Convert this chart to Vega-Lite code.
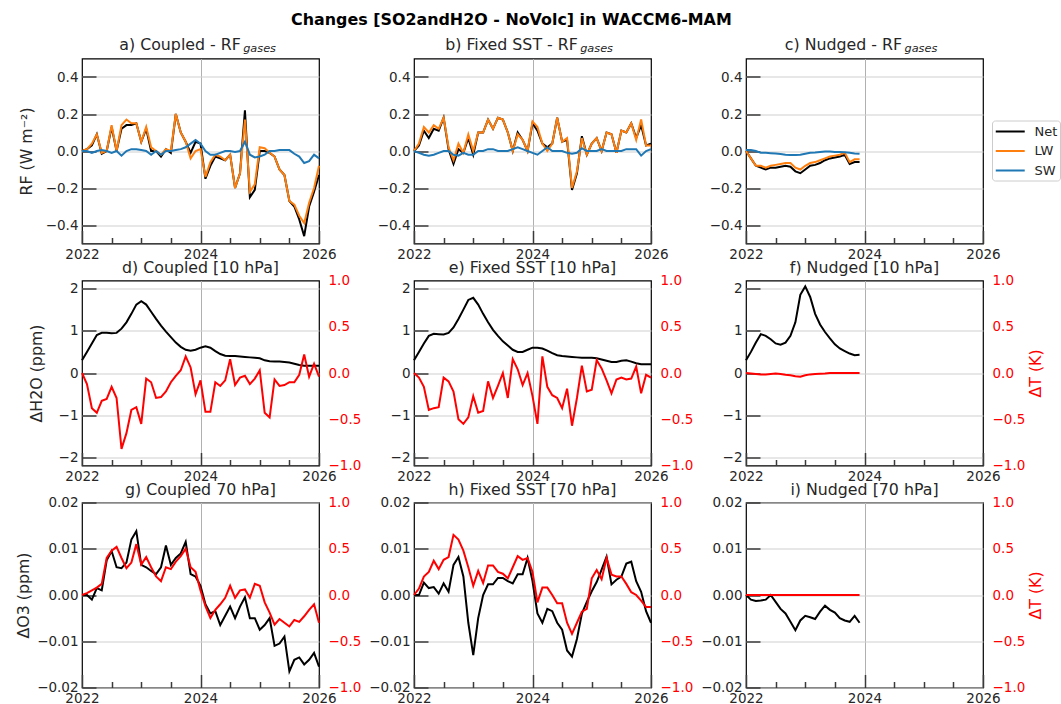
{
  "$schema": "https://vega.github.io/schema/vega-lite/v6.json",
  "background": "white",
  "padding": {"left": 15, "top": 11.5, "right": 0, "bottom": 0},
  "title": {"text": "Changes [SO2andH2O - NoVolc] in WACCM6-MAM", "fontSize": 15.9, "fontWeight": "bold", "color": "black", "offset": 8, "anchor": "start", "dx": 276},
  "config": {
    "font": "DejaVu Sans",
    "view": {"stroke": "#000000", "strokeWidth": 1.2},
    "axis": {
      "domain": false, "labelFontSize": 13.5, "labelColor": "#262626", "titleFontSize": 15.8,
      "titleFontWeight": "normal", "titleColor": "#262626", "tickColor": "#3a3a3a", "tickWidth": 1.5,
      "gridColor": "#cfcfcf", "gridWidth": 1.2, "labelOverlap": false, "labelFlush": false, "labelBound": false
    },
    "title": {"fontSize": 15.8, "fontWeight": "normal", "color": "#262626", "offset": -3},
    "line": {"strokeWidth": 2}
  },
  "datasets": {
    "a": [
      {"m":0,"Net":0,"LW":0,"SW":0},{"m":1,"Net":0.01,"LW":0.01,"SW":0},{"m":2,"Net":0.03,"LW":0.04,"SW":-0.01},{"m":3,"Net":0.09,"LW":0.09,"SW":0},
      {"m":4,"Net":-0.015,"LW":-0.01,"SW":0.005},{"m":5,"Net":0,"LW":0,"SW":0},{"m":6,"Net":0.13,"LW":0.14,"SW":-0.01},{"m":7,"Net":0,"LW":0,"SW":0},
      {"m":8,"Net":0.12,"LW":0.14,"SW":-0.025},{"m":9,"Net":0.14,"LW":0.17,"SW":0},{"m":10,"Net":0.14,"LW":0.15,"SW":0.01},{"m":11,"Net":0.15,"LW":0.15,"SW":0.01},
      {"m":12,"Net":0.05,"LW":0.05,"SW":0.005},{"m":13,"Net":0.12,"LW":0.13,"SW":0},{"m":14,"Net":0,"LW":0.02,"SW":-0.02},{"m":15,"Net":0,"LW":0,"SW":0},
      {"m":16,"Net":-0.03,"LW":-0.02,"SW":-0.02},{"m":17,"Net":0.01,"LW":0.01,"SW":0},{"m":18,"Net":-0.01,"LW":0,"SW":0},{"m":19,"Net":0.2,"LW":0.2,"SW":0.005},
      {"m":20,"Net":0.1,"LW":0.1,"SW":0.01},{"m":21,"Net":0.05,"LW":0.05,"SW":0.02},{"m":22,"Net":-0.01,"LW":-0.04,"SW":0.04},{"m":23,"Net":0.05,"LW":0,"SW":0.06},
      {"m":24,"Net":0.04,"LW":0.01,"SW":0.04},{"m":25,"Net":-0.15,"LW":-0.14,"SW":0},{"m":26,"Net":-0.08,"LW":-0.06,"SW":-0.02},{"m":27,"Net":-0.03,"LW":-0.02,"SW":-0.02},
      {"m":28,"Net":-0.04,"LW":-0.03,"SW":-0.01},{"m":29,"Net":-0.05,"LW":-0.05,"SW":0},{"m":30,"Net":-0.02,"LW":-0.02,"SW":0},{"m":31,"Net":-0.2,"LW":-0.2,"SW":-0.005},
      {"m":32,"Net":-0.12,"LW":-0.12,"SW":0},{"m":33,"Net":0.22,"LW":0.17,"SW":0.05},{"m":34,"Net":-0.25,"LW":-0.22,"SW":-0.02},{"m":35,"Net":-0.21,"LW":-0.18,"SW":-0.035},
      {"m":36,"Net":0,"LW":0.02,"SW":-0.03},{"m":37,"Net":0,"LW":0.015,"SW":-0.02},{"m":38,"Net":-0.01,"LW":-0.01,"SW":0},{"m":39,"Net":-0.03,"LW":-0.03,"SW":0},
      {"m":40,"Net":-0.1,"LW":-0.1,"SW":0.005},{"m":41,"Net":-0.13,"LW":-0.13,"SW":0.005},{"m":42,"Net":-0.27,"LW":-0.27,"SW":0.005},{"m":43,"Net":-0.3,"LW":-0.29,"SW":-0.015},
      {"m":44,"Net":-0.37,"LW":-0.35,"SW":-0.03},{"m":45,"Net":-0.46,"LW":-0.39,"SW":-0.065},{"m":46,"Net":-0.3,"LW":-0.28,"SW":-0.055},{"m":47,"Net":-0.22,"LW":-0.2,"SW":-0.02},
      {"m":48,"Net":-0.13,"LW":-0.08,"SW":-0.04}
    ],
    "b": [
      {"m":0,"Net":0,"LW":0,"SW":0},{"m":1,"Net":0.03,"LW":0.04,"SW":-0.01},{"m":2,"Net":0.11,"LW":0.13,"SW":-0.02},{"m":3,"Net":0.07,"LW":0.1,"SW":-0.025},
      {"m":4,"Net":0.12,"LW":0.14,"SW":-0.02},{"m":5,"Net":0.11,"LW":0.12,"SW":-0.01},{"m":6,"Net":0.18,"LW":0.18,"SW":0},{"m":7,"Net":0.01,"LW":0.02,"SW":0},
      {"m":8,"Net":-0.07,"LW":-0.05,"SW":-0.02},{"m":9,"Net":0.01,"LW":0.04,"SW":-0.025},{"m":10,"Net":-0.01,"LW":-0.01,"SW":-0.01},{"m":11,"Net":0.07,"LW":0.09,"SW":-0.02},
      {"m":12,"Net":-0.02,"LW":0,"SW":-0.02},{"m":13,"Net":0.1,"LW":0.1,"SW":0},{"m":14,"Net":0.1,"LW":0.1,"SW":0},{"m":15,"Net":0.17,"LW":0.17,"SW":0.01},
      {"m":16,"Net":0.12,"LW":0.12,"SW":0.01},{"m":17,"Net":0.18,"LW":0.18,"SW":0},{"m":18,"Net":0.17,"LW":0.17,"SW":0},{"m":19,"Net":0.1,"LW":0.1,"SW":0},
      {"m":20,"Net":0,"LW":0,"SW":0.01},{"m":21,"Net":0.1,"LW":0.09,"SW":0.02},{"m":22,"Net":0.06,"LW":0.06,"SW":0.01},{"m":23,"Net":0,"LW":0,"SW":0},
      {"m":24,"Net":0.15,"LW":0.16,"SW":-0.01},{"m":25,"Net":0.11,"LW":0.13,"SW":-0.02},{"m":26,"Net":0.04,"LW":0.04,"SW":0},{"m":27,"Net":0.02,"LW":0,"SW":0.02},
      {"m":28,"Net":0.04,"LW":0.04,"SW":0},{"m":29,"Net":0.18,"LW":0.18,"SW":0},{"m":30,"Net":0.05,"LW":0.05,"SW":0},{"m":31,"Net":0.06,"LW":0.07,"SW":-0.01},
      {"m":32,"Net":-0.21,"LW":-0.2,"SW":-0.015},{"m":33,"Net":-0.12,"LW":-0.11,"SW":-0.01},{"m":34,"Net":0.08,"LW":0.07,"SW":0.015},{"m":35,"Net":-0.02,"LW":-0.02,"SW":0},
      {"m":36,"Net":0.04,"LW":0.04,"SW":0},{"m":37,"Net":0.07,"LW":0.07,"SW":0},{"m":38,"Net":0,"LW":0,"SW":0.01},{"m":39,"Net":0.1,"LW":0.1,"SW":0},
      {"m":40,"Net":0.09,"LW":0.09,"SW":0},{"m":41,"Net":-0.01,"LW":-0.01,"SW":0},{"m":42,"Net":0.11,"LW":0.11,"SW":0},{"m":43,"Net":0.1,"LW":0.1,"SW":0.01},
      {"m":44,"Net":0.15,"LW":0.15,"SW":0.01},{"m":45,"Net":0.07,"LW":0.06,"SW":0.01},{"m":46,"Net":0.14,"LW":0.17,"SW":-0.025},{"m":47,"Net":0.03,"LW":0.03,"SW":0},
      {"m":48,"Net":0.04,"LW":0.03,"SW":0.01}
    ],
    "c": [
      {"m":0,"Net":0,"LW":0,"SW":0.005},{"m":1,"Net":-0.04,"LW":-0.04,"SW":0.005},{"m":2,"Net":-0.08,"LW":-0.08,"SW":0},{"m":3,"Net":-0.09,"LW":-0.08,"SW":-0.01},
      {"m":4,"Net":-0.1,"LW":-0.09,"SW":-0.01},{"m":5,"Net":-0.09,"LW":-0.08,"SW":-0.012},{"m":6,"Net":-0.09,"LW":-0.075,"SW":-0.014},{"m":7,"Net":-0.085,"LW":-0.07,"SW":-0.016},
      {"m":8,"Net":-0.08,"LW":-0.065,"SW":-0.02},{"m":9,"Net":-0.085,"LW":-0.065,"SW":-0.022},{"m":10,"Net":-0.11,"LW":-0.09,"SW":-0.022},{"m":11,"Net":-0.12,"LW":-0.1,"SW":-0.02},
      {"m":12,"Net":-0.1,"LW":-0.08,"SW":-0.015},{"m":13,"Net":-0.08,"LW":-0.065,"SW":-0.01},{"m":14,"Net":-0.075,"LW":-0.06,"SW":-0.008},{"m":15,"Net":-0.065,"LW":-0.05,"SW":-0.005},
      {"m":16,"Net":-0.05,"LW":-0.04,"SW":-0.003},{"m":17,"Net":-0.04,"LW":-0.03,"SW":-0.003},{"m":18,"Net":-0.035,"LW":-0.025,"SW":-0.005},{"m":19,"Net":-0.03,"LW":-0.02,"SW":-0.005},
      {"m":20,"Net":-0.02,"LW":-0.01,"SW":-0.007},{"m":21,"Net":-0.07,"LW":-0.06,"SW":-0.01},{"m":22,"Net":-0.06,"LW":-0.045,"SW":-0.013},{"m":23,"Net":-0.06,"LW":-0.045,"SW":-0.015}
    ],
    "d": [
      {"m":0,"H2O":0.3,"T":0},{"m":1,"H2O":0.5,"T":-0.12},{"m":2,"H2O":0.7,"T":-0.38},{"m":3,"H2O":0.9,"T":-0.43},{"m":4,"H2O":0.95,"T":-0.3},
      {"m":5,"H2O":0.95,"T":-0.28},{"m":6,"H2O":0.94,"T":-0.15},{"m":7,"H2O":0.95,"T":-0.27},{"m":8,"H2O":1.05,"T":-0.82},{"m":9,"H2O":1.2,"T":-0.65},
      {"m":10,"H2O":1.4,"T":-0.4},{"m":11,"H2O":1.62,"T":-0.37},{"m":12,"H2O":1.7,"T":-0.55},{"m":13,"H2O":1.62,"T":-0.06},{"m":14,"H2O":1.45,"T":-0.1},
      {"m":15,"H2O":1.28,"T":-0.27},{"m":16,"H2O":1.12,"T":-0.26},{"m":17,"H2O":0.98,"T":-0.2},{"m":18,"H2O":0.85,"T":-0.1},{"m":19,"H2O":0.72,"T":-0.03},
      {"m":20,"H2O":0.62,"T":0.03},{"m":21,"H2O":0.55,"T":0.18},{"m":22,"H2O":0.53,"T":0.06},{"m":23,"H2O":0.55,"T":-0.23},{"m":24,"H2O":0.6,"T":-0.08},
      {"m":25,"H2O":0.63,"T":-0.42},{"m":26,"H2O":0.6,"T":-0.42},{"m":27,"H2O":0.52,"T":-0.1},{"m":28,"H2O":0.45,"T":-0.14},{"m":29,"H2O":0.41,"T":-0.08},
      {"m":30,"H2O":0.4,"T":0.15},{"m":31,"H2O":0.4,"T":-0.13},{"m":32,"H2O":0.39,"T":-0.05},{"m":33,"H2O":0.38,"T":-0.03},{"m":34,"H2O":0.37,"T":-0.12},
      {"m":35,"H2O":0.36,"T":-0.06},{"m":36,"H2O":0.35,"T":0.03},{"m":37,"H2O":0.3,"T":-0.43},{"m":38,"H2O":0.28,"T":-0.48},{"m":39,"H2O":0.27,"T":-0.07},
      {"m":40,"H2O":0.27,"T":-0.14},{"m":41,"H2O":0.26,"T":-0.13},{"m":42,"H2O":0.25,"T":-0.1},{"m":43,"H2O":0.22,"T":-0.1},{"m":44,"H2O":0.19,"T":-0.02},
      {"m":45,"H2O":0.17,"T":0.2},{"m":46,"H2O":0.17,"T":-0.04},{"m":47,"H2O":0.17,"T":0.1},{"m":48,"H2O":0.17,"T":-0.04}
    ],
    "e": [
      {"m":0,"H2O":0.3,"T":0},{"m":1,"H2O":0.5,"T":-0.05},{"m":2,"H2O":0.7,"T":-0.15},{"m":3,"H2O":0.88,"T":-0.4},{"m":4,"H2O":0.93,"T":-0.38},
      {"m":5,"H2O":0.92,"T":-0.37},{"m":6,"H2O":0.91,"T":-0.05},{"m":7,"H2O":0.95,"T":-0.09},{"m":8,"H2O":1.08,"T":-0.2},{"m":9,"H2O":1.28,"T":-0.5},
      {"m":10,"H2O":1.5,"T":-0.55},{"m":11,"H2O":1.73,"T":-0.48},{"m":12,"H2O":1.78,"T":-0.25},{"m":13,"H2O":1.62,"T":-0.43},{"m":14,"H2O":1.4,"T":-0.41},
      {"m":15,"H2O":1.2,"T":-0.09},{"m":16,"H2O":1.02,"T":-0.27},{"m":17,"H2O":0.88,"T":-0.14},{"m":18,"H2O":0.75,"T":0},{"m":19,"H2O":0.65,"T":-0.27},
      {"m":20,"H2O":0.55,"T":0.15},{"m":21,"H2O":0.5,"T":0.04},{"m":22,"H2O":0.5,"T":-0.13},{"m":23,"H2O":0.55,"T":0},{"m":24,"H2O":0.6,"T":-0.25},
      {"m":25,"H2O":0.6,"T":-0.55},{"m":26,"H2O":0.58,"T":0.18},{"m":27,"H2O":0.53,"T":-0.15},{"m":28,"H2O":0.47,"T":-0.24},{"m":29,"H2O":0.42,"T":-0.27},
      {"m":30,"H2O":0.4,"T":-0.38},{"m":31,"H2O":0.39,"T":-0.17},{"m":32,"H2O":0.38,"T":-0.57},{"m":33,"H2O":0.37,"T":-0.27},{"m":34,"H2O":0.36,"T":0.08},
      {"m":35,"H2O":0.36,"T":-0.2},{"m":36,"H2O":0.36,"T":-0.18},{"m":37,"H2O":0.35,"T":0.14},{"m":38,"H2O":0.32,"T":0.05},{"m":39,"H2O":0.29,"T":-0.08},
      {"m":40,"H2O":0.26,"T":-0.22},{"m":41,"H2O":0.26,"T":-0.07},{"m":42,"H2O":0.29,"T":-0.05},{"m":43,"H2O":0.3,"T":-0.07},{"m":44,"H2O":0.27,"T":-0.06},
      {"m":45,"H2O":0.23,"T":0.07},{"m":46,"H2O":0.21,"T":-0.22},{"m":47,"H2O":0.21,"T":-0.02},{"m":48,"H2O":0.21,"T":-0.05}
    ],
    "f": [
      {"m":0,"H2O":0.3,"T":0},{"m":1,"H2O":0.5,"T":-0.005},{"m":2,"H2O":0.72,"T":-0.01},{"m":3,"H2O":0.92,"T":-0.015},{"m":4,"H2O":0.88,"T":-0.015},
      {"m":5,"H2O":0.8,"T":-0.01},{"m":6,"H2O":0.7,"T":-0.005},{"m":7,"H2O":0.67,"T":-0.01},{"m":8,"H2O":0.72,"T":-0.02},{"m":9,"H2O":0.88,"T":-0.025},
      {"m":10,"H2O":1.2,"T":-0.035},{"m":11,"H2O":1.85,"T":-0.04},{"m":12,"H2O":2.05,"T":-0.025},{"m":13,"H2O":1.8,"T":-0.015},{"m":14,"H2O":1.4,"T":-0.01},
      {"m":15,"H2O":1.15,"T":-0.008},{"m":16,"H2O":0.97,"T":-0.005},{"m":17,"H2O":0.82,"T":0},{"m":18,"H2O":0.68,"T":0},{"m":19,"H2O":0.58,"T":0},
      {"m":20,"H2O":0.52,"T":0},{"m":21,"H2O":0.46,"T":0},{"m":22,"H2O":0.42,"T":0},{"m":23,"H2O":0.43,"T":0}
    ],
    "g": [
      {"m":0,"O3":0,"T":0},{"m":1,"O3":0,"T":0.02},{"m":2,"O3":-0.001,"T":0.05},{"m":3,"O3":0.0015,"T":0.08},{"m":4,"O3":0.001,"T":0.12},
      {"m":5,"O3":0.0075,"T":0.4},{"m":6,"O3":0.0095,"T":0.48},{"m":7,"O3":0.006,"T":0.52},{"m":8,"O3":0.0058,"T":0.4},{"m":9,"O3":0.007,"T":0.29},
      {"m":10,"O3":0.012,"T":0.35},{"m":11,"O3":0.0138,"T":0.55},{"m":12,"O3":0.0065,"T":0.33},{"m":13,"O3":0.006,"T":0.41},{"m":14,"O3":0.0052,"T":0.3},
      {"m":15,"O3":0.0045,"T":0.2},{"m":16,"O3":0.006,"T":0.15},{"m":17,"O3":0.0107,"T":0.3},{"m":18,"O3":0.0065,"T":0.28},{"m":19,"O3":0.008,"T":0.36},
      {"m":20,"O3":0.009,"T":0.42},{"m":21,"O3":0.0115,"T":0.5},{"m":22,"O3":0.0045,"T":0.3},{"m":23,"O3":0.004,"T":0.25},{"m":24,"O3":0.002,"T":0.05},
      {"m":25,"O3":-0.002,"T":-0.12},{"m":26,"O3":-0.004,"T":-0.25},{"m":27,"O3":-0.0035,"T":-0.16},{"m":28,"O3":-0.0065,"T":-0.1},{"m":29,"O3":-0.0045,"T":-0.03},
      {"m":30,"O3":-0.0025,"T":0.1},{"m":31,"O3":-0.005,"T":-0.03},{"m":32,"O3":-0.0025,"T":0.05},{"m":33,"O3":-0.0005,"T":0.06},{"m":34,"O3":-0.005,"T":-0.03},
      {"m":35,"O3":-0.005,"T":0.12},{"m":36,"O3":-0.0075,"T":0.1},{"m":37,"O3":-0.0065,"T":-0.08},{"m":38,"O3":-0.005,"T":-0.19},{"m":39,"O3":-0.011,"T":-0.32},
      {"m":40,"O3":-0.0105,"T":-0.26},{"m":41,"O3":-0.009,"T":-0.3},{"m":42,"O3":-0.0165,"T":-0.34},{"m":43,"O3":-0.014,"T":-0.27},{"m":44,"O3":-0.0135,"T":-0.29},
      {"m":45,"O3":-0.015,"T":-0.23},{"m":46,"O3":-0.014,"T":-0.16},{"m":47,"O3":-0.0125,"T":-0.1},{"m":48,"O3":-0.0155,"T":-0.3}
    ],
    "h": [
      {"m":0,"O3":0,"T":0},{"m":1,"O3":0,"T":0.07},{"m":2,"O3":0.0027,"T":0.2},{"m":3,"O3":0.0015,"T":0.25},{"m":4,"O3":0.0017,"T":0.37},
      {"m":5,"O3":0.0003,"T":0.28},{"m":6,"O3":0.0025,"T":0.38},{"m":7,"O3":0.0007,"T":0.41},{"m":8,"O3":0.0065,"T":0.65},{"m":9,"O3":0.0082,"T":0.6},
      {"m":10,"O3":0.004,"T":0.48},{"m":11,"O3":-0.006,"T":0.3},{"m":12,"O3":-0.013,"T":0.1},{"m":13,"O3":-0.005,"T":0.26},{"m":14,"O3":0,"T":0.13},
      {"m":15,"O3":0.0023,"T":0.32},{"m":16,"O3":0.0023,"T":0.32},{"m":17,"O3":0.0037,"T":0.25},{"m":18,"O3":0.0037,"T":0.23},{"m":19,"O3":0.003,"T":0.18},
      {"m":20,"O3":0.0025,"T":0.3},{"m":21,"O3":0.0045,"T":0.42},{"m":22,"O3":0.0045,"T":0.38},{"m":23,"O3":0.008,"T":0.4},{"m":24,"O3":0.003,"T":0.25},
      {"m":25,"O3":-0.004,"T":-0.08},{"m":26,"O3":-0.006,"T":0.08},{"m":27,"O3":-0.003,"T":0.08},{"m":28,"O3":-0.0035,"T":0},{"m":29,"O3":-0.006,"T":-0.09},
      {"m":30,"O3":-0.0075,"T":-0.09},{"m":31,"O3":-0.012,"T":-0.3},{"m":32,"O3":-0.0133,"T":-0.42},{"m":33,"O3":-0.0095,"T":-0.3},{"m":34,"O3":-0.004,"T":-0.18},
      {"m":35,"O3":-0.0015,"T":-0.15},{"m":36,"O3":0.0008,"T":0.18},{"m":37,"O3":0.0028,"T":0.27},{"m":38,"O3":0.0055,"T":0.17},{"m":39,"O3":0.0083,"T":0.4},
      {"m":40,"O3":0.0023,"T":0.22},{"m":41,"O3":0.0033,"T":0.2},{"m":42,"O3":0.004,"T":0.2},{"m":43,"O3":0.0068,"T":0.12},{"m":44,"O3":0.0072,"T":0.03},
      {"m":45,"O3":0.003,"T":0},{"m":46,"O3":0.0007,"T":-0.06},{"m":47,"O3":-0.0035,"T":-0.13},{"m":48,"O3":-0.006,"T":-0.13}
    ],
    "i": [
      {"m":0,"O3":0,"T":0},{"m":1,"O3":-0.001,"T":0},{"m":2,"O3":-0.0013,"T":0},{"m":3,"O3":-0.0012,"T":0},{"m":4,"O3":-0.001,"T":0},
      {"m":5,"O3":0,"T":0},{"m":6,"O3":-0.0015,"T":0},{"m":7,"O3":-0.003,"T":0},{"m":8,"O3":-0.004,"T":0},{"m":9,"O3":-0.0058,"T":0},
      {"m":10,"O3":-0.0076,"T":0},{"m":11,"O3":-0.0055,"T":0},{"m":12,"O3":-0.0045,"T":0},{"m":13,"O3":-0.0048,"T":0},{"m":14,"O3":-0.0052,"T":0},
      {"m":15,"O3":-0.0036,"T":0},{"m":16,"O3":-0.0023,"T":0},{"m":17,"O3":-0.0032,"T":0},{"m":18,"O3":-0.0038,"T":0},{"m":19,"O3":-0.005,"T":0},
      {"m":20,"O3":-0.0055,"T":0},{"m":21,"O3":-0.0058,"T":0},{"m":22,"O3":-0.0045,"T":0},{"m":23,"O3":-0.006,"T":0}
    ]
  },
  "columns": 3,
  "bounds": "flush",
  "spacing": {"row": 37, "column": 95},
  "concat": [
    {
      "width": 237, "height": 185,
      "title": {"text": "a) Coupled - RF\u00a0\u00a0\u00a0\u00a0\u00a0\u00a0\u00a0\u200b", "subtitle": "gases", "anchor": "middle", "align": "right", "dx": 75.5, "offset": 3, "subtitleFontStyle": "italic", "subtitleFontSize": 11.3, "subtitleColor": "#262626", "subtitlePadding": -10.5},
      "data": {"name": "a"},
      "transform": [{"fold": ["Net", "LW", "SW"], "as": ["k", "v"]}],
      "mark": {"type": "line", "strokeWidth": 2},
      "encoding": {
        "x": {"field": "m", "type": "quantitative", "title": null, "scale": {"domain": [0, 48], "nice": false, "zero": false},
          "axis": {"values": [0, 6, 12, 18, 24, 30, 36, 42, 48], "labelExpr": "datum.value % 24 === 0 ? '' + (2022 + datum.value / 12) : ''", "tickSize": {"condition": {"test": "datum.value % 24 === 0", "value": -13}, "value": -6}, "labelPadding": 17, "gridColor": "#b0b0b0", "gridWidth": 1, "gridOpacity": {"condition": {"test": "datum.value === 24", "value": 1}, "value": 0}}},
        "y": {"field": "v", "type": "quantitative", "title": "RF (W m⁻²)", "scale": {"domain": [-0.5, 0.5], "nice": false, "zero": false},
          "axis": {"values": [-0.4, -0.2, 0, 0.2, 0.4], "format": ".1f", "tickSize": -14, "labelPadding": 18, "titlePadding": 11}},
        "color": {"field": "k", "type": "nominal", "scale": {"domain": ["Net", "LW", "SW"], "range": ["#000000", "#ff7f0e", "#1f77b4"]},
          "legend": {"title": null, "orient": "none", "legendX": 910, "legendY": 62, "symbolType": "M-1,0H3", "symbolSize": 210, "symbolStrokeWidth": 2.5, "labelFontSize": 13, "labelColor": "#262626", "fillColor": "white", "strokeColor": "#cccccc", "padding": 2.5, "cornerRadius": 3, "rowPadding": 3.5, "labelOffset": 23}}
      }
    },
    {
      "width": 237, "height": 185,
      "title": {"text": "b) Fixed SST - RF\u00a0\u00a0\u00a0\u00a0\u00a0\u00a0\u00a0\u200b", "subtitle": "gases", "anchor": "middle", "align": "right", "dx": 80.5, "offset": 3, "subtitleFontStyle": "italic", "subtitleFontSize": 11.3, "subtitleColor": "#262626", "subtitlePadding": -10.5},
      "data": {"name": "b"},
      "transform": [{"fold": ["Net", "LW", "SW"], "as": ["k", "v"]}],
      "mark": {"type": "line", "strokeWidth": 2},
      "encoding": {
        "x": {"field": "m", "type": "quantitative", "title": null, "scale": {"domain": [0, 48], "nice": false, "zero": false},
          "axis": {"values": [0, 6, 12, 18, 24, 30, 36, 42, 48], "labelExpr": "datum.value % 24 === 0 ? '' + (2022 + datum.value / 12) : ''", "tickSize": {"condition": {"test": "datum.value % 24 === 0", "value": -13}, "value": -6}, "labelPadding": 17, "gridColor": "#b0b0b0", "gridWidth": 1, "gridOpacity": {"condition": {"test": "datum.value === 24", "value": 1}, "value": 0}}},
        "y": {"field": "v", "type": "quantitative", "title": null, "scale": {"domain": [-0.5, 0.5], "nice": false, "zero": false},
          "axis": {"values": [-0.4, -0.2, 0, 0.2, 0.4], "format": ".1f", "tickSize": -14, "labelPadding": 18}},
        "color": {"field": "k", "type": "nominal", "scale": {"domain": ["Net", "LW", "SW"], "range": ["#000000", "#ff7f0e", "#1f77b4"]},
          "legend": {"title": null, "orient": "none", "legendX": 910, "legendY": 62, "symbolType": "M-1,0H3", "symbolSize": 210, "symbolStrokeWidth": 2.5, "labelFontSize": 13, "labelColor": "#262626", "fillColor": "white", "strokeColor": "#cccccc", "padding": 2.5, "cornerRadius": 3, "rowPadding": 3.5, "labelOffset": 23}}
      }
    },
    {
      "width": 237, "height": 185,
      "title": {"text": "c) Nudged - RF\u00a0\u00a0\u00a0\u00a0\u00a0\u00a0\u00a0\u200b", "subtitle": "gases", "anchor": "middle", "align": "right", "dx": 72.8, "offset": 3, "subtitleFontStyle": "italic", "subtitleFontSize": 11.3, "subtitleColor": "#262626", "subtitlePadding": -10.5},
      "data": {"name": "c"},
      "transform": [{"fold": ["Net", "LW", "SW"], "as": ["k", "v"]}],
      "mark": {"type": "line", "strokeWidth": 2},
      "encoding": {
        "x": {"field": "m", "type": "quantitative", "title": null, "scale": {"domain": [0, 48], "nice": false, "zero": false},
          "axis": {"values": [0, 6, 12, 18, 24, 30, 36, 42, 48], "labelExpr": "datum.value % 24 === 0 ? '' + (2022 + datum.value / 12) : ''", "tickSize": {"condition": {"test": "datum.value % 24 === 0", "value": -13}, "value": -6}, "labelPadding": 17, "gridColor": "#b0b0b0", "gridWidth": 1, "gridOpacity": {"condition": {"test": "datum.value === 24", "value": 1}, "value": 0}}},
        "y": {"field": "v", "type": "quantitative", "title": null, "scale": {"domain": [-0.5, 0.5], "nice": false, "zero": false},
          "axis": {"values": [-0.4, -0.2, 0, 0.2, 0.4], "format": ".1f", "tickSize": -14, "labelPadding": 18}},
        "color": {"field": "k", "type": "nominal", "scale": {"domain": ["Net", "LW", "SW"], "range": ["#000000", "#ff7f0e", "#1f77b4"]},
          "legend": {"title": null, "orient": "none", "legendX": 910, "legendY": 62, "symbolType": "M-1,0H3", "symbolSize": 210, "symbolStrokeWidth": 2.5, "labelFontSize": 13, "labelColor": "#262626", "fillColor": "white", "strokeColor": "#cccccc", "padding": 2.5, "cornerRadius": 3, "rowPadding": 3.5, "labelOffset": 23}}
      }
    },
    {
      "width": 237, "height": 185,
      "title": "d) Coupled [10 hPa]",
      "data": {"name": "d"},
      "encoding": {
        "x": {"field": "m", "type": "quantitative", "title": null, "scale": {"domain": [0, 48], "nice": false, "zero": false},
          "axis": {"values": [0, 6, 12, 18, 24, 30, 36, 42, 48], "labelExpr": "datum.value % 24 === 0 ? '' + (2022 + datum.value / 12) : ''", "tickSize": {"condition": {"test": "datum.value % 24 === 0", "value": -13}, "value": -6}, "labelPadding": 17, "gridColor": "#b0b0b0", "gridWidth": 1, "gridOpacity": {"condition": {"test": "datum.value === 24", "value": 1}, "value": 0}}}
      },
      "layer": [
        {"mark": {"type": "line", "color": "#000000", "strokeWidth": 2},
         "encoding": {"y": {"field": "H2O", "type": "quantitative", "title": "ΔH2O (ppm)", "scale": {"domain": [-2.19, 2.19], "nice": false, "zero": false},
           "axis": {"values": [-2, -1, 0, 1, 2], "format": "d", "tickSize": -14, "labelPadding": 18, "titlePadding": 14}}}},
        {"mark": {"type": "line", "color": "#ff0000", "strokeWidth": 2},
         "encoding": {"y": {"field": "T", "type": "quantitative", "title": null, "scale": {"domain": [-1, 1], "nice": false, "zero": false},
           "axis": {"orient": "right", "values": [-1, -0.5, 0, 0.5, 1], "format": ".1f", "ticks": false, "grid": false, "labelColor": "#ff0000", "labelPadding": 9}}}}
      ],
      "resolve": {"scale": {"y": "independent"}}
    },
    {
      "width": 237, "height": 185,
      "title": "e) Fixed SST [10 hPa]",
      "data": {"name": "e"},
      "encoding": {
        "x": {"field": "m", "type": "quantitative", "title": null, "scale": {"domain": [0, 48], "nice": false, "zero": false},
          "axis": {"values": [0, 6, 12, 18, 24, 30, 36, 42, 48], "labelExpr": "datum.value % 24 === 0 ? '' + (2022 + datum.value / 12) : ''", "tickSize": {"condition": {"test": "datum.value % 24 === 0", "value": -13}, "value": -6}, "labelPadding": 17, "gridColor": "#b0b0b0", "gridWidth": 1, "gridOpacity": {"condition": {"test": "datum.value === 24", "value": 1}, "value": 0}}}
      },
      "layer": [
        {"mark": {"type": "line", "color": "#000000", "strokeWidth": 2},
         "encoding": {"y": {"field": "H2O", "type": "quantitative", "title": null, "scale": {"domain": [-2.19, 2.19], "nice": false, "zero": false},
           "axis": {"values": [-2, -1, 0, 1, 2], "format": "d", "tickSize": -14, "labelPadding": 18}}}},
        {"mark": {"type": "line", "color": "#ff0000", "strokeWidth": 2},
         "encoding": {"y": {"field": "T", "type": "quantitative", "title": null, "scale": {"domain": [-1, 1], "nice": false, "zero": false},
           "axis": {"orient": "right", "values": [-1, -0.5, 0, 0.5, 1], "format": ".1f", "ticks": false, "grid": false, "labelColor": "#ff0000", "labelPadding": 9}}}}
      ],
      "resolve": {"scale": {"y": "independent"}}
    },
    {
      "width": 237, "height": 185,
      "title": "f) Nudged [10 hPa]",
      "data": {"name": "f"},
      "encoding": {
        "x": {"field": "m", "type": "quantitative", "title": null, "scale": {"domain": [0, 48], "nice": false, "zero": false},
          "axis": {"values": [0, 6, 12, 18, 24, 30, 36, 42, 48], "labelExpr": "datum.value % 24 === 0 ? '' + (2022 + datum.value / 12) : ''", "tickSize": {"condition": {"test": "datum.value % 24 === 0", "value": -13}, "value": -6}, "labelPadding": 17, "gridColor": "#b0b0b0", "gridWidth": 1, "gridOpacity": {"condition": {"test": "datum.value === 24", "value": 1}, "value": 0}}}
      },
      "layer": [
        {"mark": {"type": "line", "color": "#000000", "strokeWidth": 2},
         "encoding": {"y": {"field": "H2O", "type": "quantitative", "title": null, "scale": {"domain": [-2.19, 2.19], "nice": false, "zero": false},
           "axis": {"values": [-2, -1, 0, 1, 2], "format": "d", "tickSize": -14, "labelPadding": 18}}}},
        {"mark": {"type": "line", "color": "#ff0000", "strokeWidth": 2},
         "encoding": {"y": {"field": "T", "type": "quantitative", "title": "ΔT (K)", "scale": {"domain": [-1, 1], "nice": false, "zero": false},
           "axis": {"orient": "right", "values": [-1, -0.5, 0, 0.5, 1], "format": ".1f", "ticks": false, "grid": false, "labelColor": "#ff0000", "labelPadding": 9, "titleColor": "#ff0000", "titleAngle": 270, "titleBaseline": "top", "titlePadding": 4}}}}
      ],
      "resolve": {"scale": {"y": "independent"}}
    },
    {
      "width": 237, "height": 185,
      "title": "g) Coupled 70 hPa]",
      "data": {"name": "g"},
      "encoding": {
        "x": {"field": "m", "type": "quantitative", "title": null, "scale": {"domain": [0, 48], "nice": false, "zero": false},
          "axis": {"values": [0, 6, 12, 18, 24, 30, 36, 42, 48], "labelExpr": "datum.value % 24 === 0 ? '' + (2022 + datum.value / 12) : ''", "tickSize": {"condition": {"test": "datum.value % 24 === 0", "value": -13}, "value": -6}, "labelPadding": 17, "gridColor": "#b0b0b0", "gridWidth": 1, "gridOpacity": {"condition": {"test": "datum.value === 24", "value": 1}, "value": 0}}}
      },
      "layer": [
        {"mark": {"type": "line", "color": "#000000", "strokeWidth": 2},
         "encoding": {"y": {"field": "O3", "type": "quantitative", "title": "ΔO3 (ppm)", "scale": {"domain": [-0.02, 0.02], "nice": false, "zero": false},
           "axis": {"values": [-0.02, -0.01, 0, 0.01, 0.02], "format": ".2f", "tickSize": -14, "labelPadding": 18, "titlePadding": 5}}}},
        {"mark": {"type": "line", "color": "#ff0000", "strokeWidth": 2},
         "encoding": {"y": {"field": "T", "type": "quantitative", "title": null, "scale": {"domain": [-1, 1], "nice": false, "zero": false},
           "axis": {"orient": "right", "values": [-1, -0.5, 0, 0.5, 1], "format": ".1f", "ticks": false, "grid": false, "labelColor": "#ff0000", "labelPadding": 9}}}}
      ],
      "resolve": {"scale": {"y": "independent"}}
    },
    {
      "width": 237, "height": 185,
      "title": "h) Fixed SST [70 hPa]",
      "data": {"name": "h"},
      "encoding": {
        "x": {"field": "m", "type": "quantitative", "title": null, "scale": {"domain": [0, 48], "nice": false, "zero": false},
          "axis": {"values": [0, 6, 12, 18, 24, 30, 36, 42, 48], "labelExpr": "datum.value % 24 === 0 ? '' + (2022 + datum.value / 12) : ''", "tickSize": {"condition": {"test": "datum.value % 24 === 0", "value": -13}, "value": -6}, "labelPadding": 17, "gridColor": "#b0b0b0", "gridWidth": 1, "gridOpacity": {"condition": {"test": "datum.value === 24", "value": 1}, "value": 0}}}
      },
      "layer": [
        {"mark": {"type": "line", "color": "#000000", "strokeWidth": 2},
         "encoding": {"y": {"field": "O3", "type": "quantitative", "title": null, "scale": {"domain": [-0.02, 0.02], "nice": false, "zero": false},
           "axis": {"values": [-0.02, -0.01, 0, 0.01, 0.02], "format": ".2f", "tickSize": -14, "labelPadding": 18}}}},
        {"mark": {"type": "line", "color": "#ff0000", "strokeWidth": 2},
         "encoding": {"y": {"field": "T", "type": "quantitative", "title": null, "scale": {"domain": [-1, 1], "nice": false, "zero": false},
           "axis": {"orient": "right", "values": [-1, -0.5, 0, 0.5, 1], "format": ".1f", "ticks": false, "grid": false, "labelColor": "#ff0000", "labelPadding": 9}}}}
      ],
      "resolve": {"scale": {"y": "independent"}}
    },
    {
      "width": 237, "height": 185,
      "title": "i) Nudged [70 hPa]",
      "data": {"name": "i"},
      "encoding": {
        "x": {"field": "m", "type": "quantitative", "title": null, "scale": {"domain": [0, 48], "nice": false, "zero": false},
          "axis": {"values": [0, 6, 12, 18, 24, 30, 36, 42, 48], "labelExpr": "datum.value % 24 === 0 ? '' + (2022 + datum.value / 12) : ''", "tickSize": {"condition": {"test": "datum.value % 24 === 0", "value": -13}, "value": -6}, "labelPadding": 17, "gridColor": "#b0b0b0", "gridWidth": 1, "gridOpacity": {"condition": {"test": "datum.value === 24", "value": 1}, "value": 0}}}
      },
      "layer": [
        {"mark": {"type": "line", "color": "#000000", "strokeWidth": 2},
         "encoding": {"y": {"field": "O3", "type": "quantitative", "title": null, "scale": {"domain": [-0.02, 0.02], "nice": false, "zero": false},
           "axis": {"values": [-0.02, -0.01, 0, 0.01, 0.02], "format": ".2f", "tickSize": -14, "labelPadding": 18}}}},
        {"mark": {"type": "line", "color": "#ff0000", "strokeWidth": 2},
         "encoding": {"y": {"field": "T", "type": "quantitative", "title": "ΔT (K)", "scale": {"domain": [-1, 1], "nice": false, "zero": false},
           "axis": {"orient": "right", "values": [-1, -0.5, 0, 0.5, 1], "format": ".1f", "ticks": false, "grid": false, "labelColor": "#ff0000", "labelPadding": 9, "titleColor": "#ff0000", "titleAngle": 270, "titleBaseline": "top", "titlePadding": 4}}}}
      ],
      "resolve": {"scale": {"y": "independent"}}
    }
  ]
}
